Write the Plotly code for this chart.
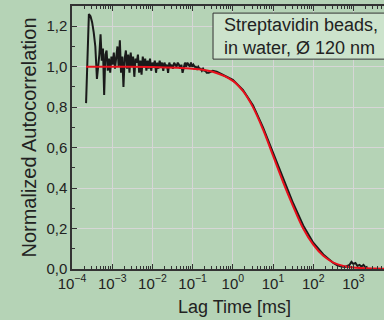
import plotly.graph_objects as go

# measured autocorrelation (lag time exponent, log10 of ms) and values
meas_exp = [-3.65, -3.62, -3.58, -3.54, -3.50, -3.46, -3.42, -3.38, -3.35, -3.32,
            -3.29, -3.26, -3.23, -3.20, -3.17, -3.14, -3.11, -3.08, -3.05, -3.02,
            -2.99, -2.96, -2.93, -2.90, -2.87, -2.84, -2.81, -2.78, -2.75, -2.72,
            -2.69, -2.66, -2.63, -2.60, -2.57, -2.54, -2.51, -2.48, -2.45, -2.42,
            -2.39, -2.36, -2.33, -2.30, -2.27, -2.24, -2.21, -2.18, -2.15, -2.12,
            -2.09, -2.06, -2.03, -2.00, -1.97, -1.94, -1.91, -1.88, -1.85, -1.82,
            -1.79, -1.76, -1.73, -1.70, -1.67, -1.64, -1.61, -1.58, -1.55, -1.52,
            -1.49, -1.46, -1.43, -1.40, -1.37, -1.34, -1.31, -1.28, -1.25, -1.22,
            -1.19, -1.16, -1.13, -1.10, -1.07, -1.04, -1.01, -0.98, -0.95, -0.92,
            -0.89, -0.86, -0.83, -0.80, -0.77, -0.74, -0.71, -0.68, -0.65, -0.60,
            -0.55, -0.50, -0.40, -0.30, -0.20, -0.10, 0.00, 0.25, 0.50, 0.75,
            1.00, 1.25, 1.50, 1.75, 2.00, 2.25, 2.40, 2.50, 2.60, 2.70,
            2.80, 2.90, 2.95, 3.00, 3.05, 3.10, 3.15, 3.20, 3.25, 3.30, 3.35]
meas_G = [0.82, 1.05, 1.26, 1.25, 1.22, 1.17, 1.10, 0.94, 1.00, 1.06,
          1.16, 1.03, 1.09, 0.86, 1.06, 1.08, 0.98, 1.04, 0.97, 1.05,
          1.01, 1.07, 0.99, 1.04, 1.10, 1.00, 1.13, 0.97, 1.05, 0.90,
          1.04, 1.08, 0.99, 1.06, 0.97, 1.07, 1.00, 1.05, 0.95, 1.04,
          1.02, 1.06, 0.97, 1.03, 0.96, 1.05, 1.00, 1.04, 0.98, 1.03,
          0.99, 1.04, 0.98, 1.02, 1.00, 1.03, 0.97, 1.02, 0.99, 1.03,
          1.00, 1.02, 0.98, 1.02, 1.00, 1.01, 0.97, 1.02, 1.00, 1.01,
          0.99, 1.02, 1.01, 1.00, 1.02, 1.01, 0.99, 1.01, 0.97, 1.00,
          1.02, 1.00, 1.02, 1.01, 1.00, 1.02, 1.00, 1.01, 1.00, 1.00,
          0.99, 1.00, 0.99, 0.99, 0.98, 0.99, 0.98, 0.98, 0.97, 0.97,
          0.975, 0.98, 0.975, 0.965, 0.955, 0.945, 0.935, 0.885, 0.81, 0.70,
          0.575, 0.445, 0.325, 0.215, 0.13, 0.072, 0.045, 0.03, 0.018, 0.012,
          0.01, 0.02, 0.035, 0.025, 0.03, 0.015, 0.02, 0.012, 0.02, 0.008, 0.012]

# fit curve
fit_exp = [-3.65, -3.0, -2.0, -1.0, -0.5, 0.0, 0.25, 0.5, 0.75, 1.0,
           1.25, 1.5, 1.75, 2.0, 2.25, 2.5, 2.75, 3.0, 3.5, 3.8]
fit_G = [1.0, 1.0, 0.999, 0.99, 0.975, 0.93, 0.88, 0.80, 0.69, 0.56,
         0.43, 0.31, 0.20, 0.12, 0.065, 0.032, 0.015, 0.007, 0.002, 0.001]

y_ticks = [0.0, 0.2, 0.4, 0.6, 0.8, 1.0, 1.2]
y_ticktext = ["0,0", "0,2", "0,4", "0,6", "0,8", "1,0", "1,2"]
x_exps = [-4, -3, -2, -1, 0, 1, 2, 3]
x_ticktext = ["10<sup>\u2212%d</sup>" % (-e) if e < 0 else "10<sup>%d</sup>" % e for e in x_exps]

BG = "#b5d3b6"
TXT = "#222222"
FONT = "Liberation Sans, Arial, sans-serif"

fig = go.Figure()
fig.add_trace(go.Scatter(x=[10 ** e for e in meas_exp], y=meas_G, mode="lines",
                         line=dict(color="#1a1a1a", width=2), showlegend=False))
fig.add_trace(go.Scatter(x=[10 ** e for e in fit_exp], y=fit_G, mode="lines",
                         line=dict(color="#e8101c", width=2), line_shape="spline",
                         showlegend=False))

minor_x = [k * 10 ** e for e in range(-4, 4) for k in range(2, 10)]

fig.update_xaxes(type="log", range=[-4, 3.76], automargin=False,
                 tickvals=[10 ** e for e in x_exps], ticktext=x_ticktext,
                 ticks="inside", ticklen=5, tickcolor="#333", tickwidth=1,
                 showline=True, linecolor="#333", linewidth=1.5, mirror="ticks",
                 showgrid=True, gridcolor="#d6d6d6", gridwidth=1, zeroline=False,
                 minor=dict(tickvals=minor_x, ticks="inside", ticklen=3,
                            tickcolor="#333", showgrid=False),
                 tickfont=dict(size=15, color=TXT, family=FONT))
fig.update_yaxes(range=[0, 1.3], tickvals=y_ticks, ticktext=y_ticktext, automargin=False,
                 ticks="inside", ticklen=5, tickcolor="#333", tickwidth=1,
                 showline=True, linecolor="#333", linewidth=1.5,
                 showgrid=True, gridcolor="#d6d6d6", gridwidth=1, zeroline=False,
                 minor=dict(dtick=0.1, ticks="inside", ticklen=3, tickcolor="#333",
                            showgrid=False),
                 tickfont=dict(size=15, color=TXT, family=FONT),
                 title=dict(text="Normalized Autocorrelation",
                            font=dict(size=20, color=TXT, family=FONT), standoff=4))

# x-axis title placed as annotation for exact position
fig.add_annotation(xref="paper", yref="paper", x=0.521, y=-0.1445, xanchor="center",
                   yanchor="middle", showarrow=False, text="Lag Time [ms]",
                   font=dict(size=18, color=TXT, family=FONT))

fig.add_shape(type="rect", xref="paper", yref="paper", x0=0.452, x1=1.06, y0=0.798, y1=0.973,
              line=dict(color="#333", width=1), fillcolor="#cce3cc", layer="above")
fig.add_annotation(xref="paper", yref="paper", x=0.480, y=0.884, xanchor="left", yanchor="middle",
                   align="left", showarrow=False,
                   text="Streptavidin beads,<br>in water, \u00d8 120 nm",
                   font=dict(size=18, color=TXT, family=FONT))

fig.update_layout(width=384, height=320, margin=dict(l=72, r=0, t=6, b=51),
                  paper_bgcolor=BG, plot_bgcolor=BG, font=dict(family=FONT, color=TXT))
fig.write_html("out.html", config={"displayModeBar": False},
               post_script="document.body.style.margin='0';document.body.style.overflow='hidden';")
